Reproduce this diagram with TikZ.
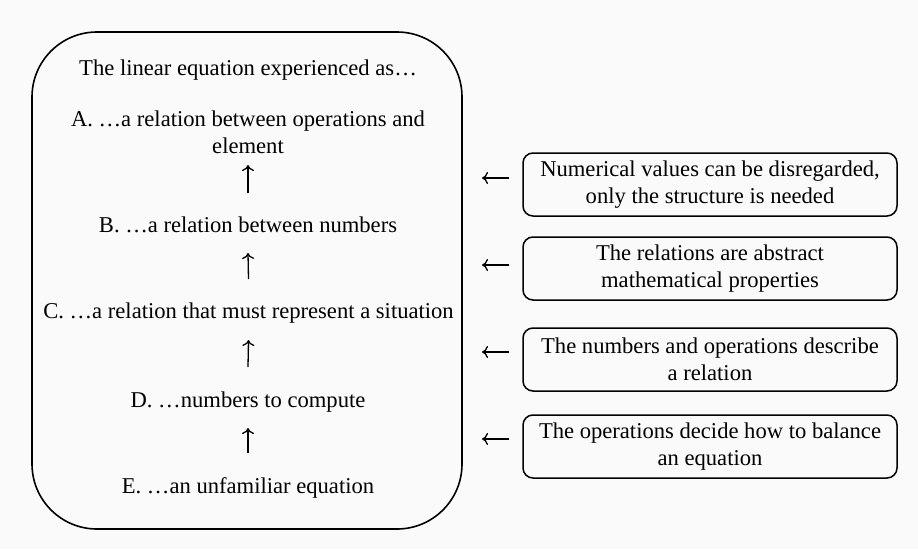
\documentclass[tikz,border=0pt]{standalone}
\usepackage{fontspec}
\setmainfont{Liberation Serif}
\newfontfamily\tnr{Liberation Serif}
\usetikzlibrary{arrows.meta}
\definecolor{bgc}{RGB}{250,250,250}
\begin{document}
\begin{tikzpicture}[x=1pt,y=-1pt,
  txt/.style={font=\tnr\fontsize{22.6}{26.5}\selectfont, inner sep=0pt, align=center, anchor=base},
  bigbox/.style={draw, line width=1.6pt, rounded corners=65pt, minimum width=430pt, minimum height=497pt, inner sep=0pt},
  sidebox/.style={draw, line width=1.5pt, rounded corners=10pt, minimum width=374pt, minimum height=63pt, inner sep=0pt, align=center, font=\tnr\fontsize{22.6}{26.5}\selectfont},
  arr/.style={line width=1.3pt, -{To[length=6pt,width=12pt]}}
]
\fill[bgc] (0,0) rectangle (918,549);
\useasboundingbox (0,0) rectangle (918,549);

\node[bigbox] (frame) at (247,280.5) {};

\node[txt] (T) at (248,75) {The linear equation experienced as…};
\node[txt] (A) at (248,153) {A. …a relation between operations and\\element};
\node[txt] (B) at (248,232) {B. …a relation between numbers};
\node[txt] (C) at (248.5,318) {C. …a relation that must represent a situation};
\node[txt] (D) at (248,407) {D. …numbers to compute};
\node[txt] (E) at (248,493) {E. …an unfamiliar equation};

\draw[arr] ([yshift=39pt]B.base) -- ([yshift=-12pt]A.base);
\draw[arr] ([yshift=39pt]C.base) -- ([yshift=-21pt]B.base);
\draw[arr] ([yshift=40pt]D.base) -- ([yshift=-22pt]C.base);
\draw[arr] ([yshift=40pt]E.base) -- ([yshift=-21pt]D.base);

\node[sidebox] (r1) at (710,184.5) {Numerical values can be disregarded,\\only the structure is needed};
\node[sidebox] (r2) at (710,268.5) {The relations are abstract\\mathematical properties};
\node[sidebox] (r3) at (710,359.5) {The numbers and operations describe\\a relation};
\node[sidebox] (r4) at (710,446.5) {The operations decide how to balance\\an equation};

\coordinate (l1) at (482,178);
\coordinate (l2) at (482,265);
\coordinate (l3) at (482,352);
\coordinate (l4) at (482,439);
\draw[arr] ([xshift=-13pt]r1.west |- l1) -- (l1);
\draw[arr] ([xshift=-13pt]r2.west |- l2) -- (l2);
\draw[arr] ([xshift=-13pt]r3.west |- l3) -- (l3);
\draw[arr] ([xshift=-13pt]r4.west |- l4) -- (l4);
\end{tikzpicture}
\end{document}
